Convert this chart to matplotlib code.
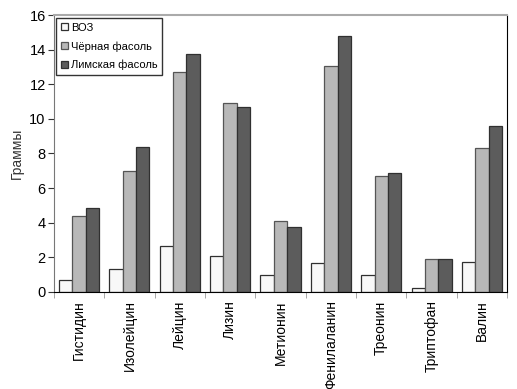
import numpy as np
import matplotlib
matplotlib.use("Agg")
import matplotlib.pyplot as plt

plt.rcParams['font.family'] = ['Liberation Sans Narrow', 'Liberation Sans', 'DejaVu Sans']

categories = ['Гистидин', 'Изолейцин', 'Лейцин', 'Лизин', 'Метионин',
              'Фенилаланин', 'Треонин', 'Триптофан', 'Валин']
who = [0.7, 1.35, 2.65, 2.05, 1.0, 1.7, 1.0, 0.25, 1.75]
black_bean = [4.4, 7.0, 12.7, 10.9, 4.1, 13.05, 6.7, 1.9, 8.3]
lima_bean = [4.85, 8.35, 13.75, 10.7, 3.75, 14.8, 6.85, 1.9, 9.6]
series_names = ['ВОЗ', 'Чёрная фасоль', 'Лимская фасоль']


def main():
    fig = plt.figure(figsize=(5.17, 3.89), dpi=100)
    ax = fig.add_axes([0.1044, 0.2494, 0.8763, 0.712])

    x = np.arange(len(categories))
    w = 0.265
    ax.bar(x - w, who, w, color='#f8f8f8', edgecolor='#303030', linewidth=0.9, label=series_names[0])
    ax.bar(x, black_bean, w, color='#b8b8b8', edgecolor='#555555', linewidth=0.9, label=series_names[1])
    ax.bar(x + w, lima_bean, w, color='#5c5c5c', edgecolor='#303030', linewidth=0.9, label=series_names[2])

    ax.set_xlim(-0.5, len(categories) - 0.5)
    ax.set_ylim(0, 16)
    ax.set_yticks(range(0, 17, 2))
    ax.tick_params(axis='y', labelsize=10.5, length=4, width=0.8, color='#333333', pad=2)

    ax.set_xticks(x)
    ax.set_xticklabels(categories, rotation=90, fontsize=10)
    ax.tick_params(axis='x', length=0, pad=6)
    ax.set_xticks(np.arange(-0.5, len(categories), 1), minor=True)
    ax.tick_params(axis='x', which='minor', length=4, color='#999999')

    ax.set_ylabel('Граммы', fontsize=10, color='#333333')

    ax.spines['top'].set_color('#aaaaaa')
    ax.spines['top'].set_linewidth(1.5)
    ax.spines['right'].set_color('black')
    ax.spines['left'].set_color('#777777')
    ax.spines['bottom'].set_color('black')

    leg = ax.legend(loc='upper left', bbox_to_anchor=(0.005, 0.99), fontsize=8,
                    frameon=True, fancybox=False, edgecolor='black', handlelength=0.6,
                    handleheight=0.6, handletextpad=0.25, borderpad=0.45, labelspacing=0.75,
                    borderaxespad=0.0)
    leg.get_frame().set_linewidth(1.0)

    fig.savefig('out.png', dpi=100)


if __name__ == "__main__":
    main()
